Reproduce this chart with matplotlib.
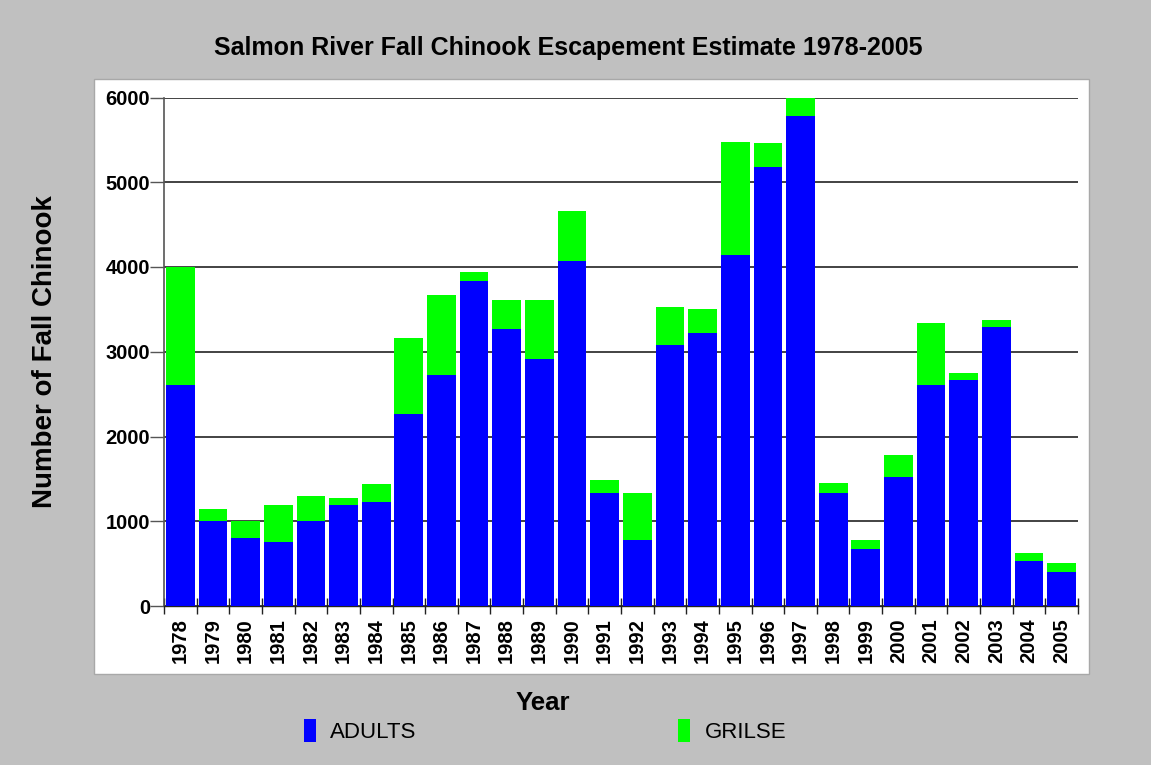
# Salmon River fall chinook escapement, stacked bars (adults + grilse)

import matplotlib
matplotlib.use("Agg")
import matplotlib.pyplot as plt
from matplotlib.patches import Rectangle, Patch
import numpy as np

plt.rcParams["font.family"] = ["Liberation Sans", "DejaVu Sans"]

# ------------------------------------------------------------
# Data
# ------------------------------------------------------------
years = [str(y) for y in range(1978, 2006)]
adults = [2610, 1000, 800, 755, 1000, 1195, 1230, 2260, 2720, 3840,
          3270, 2915, 4070, 1335, 780, 3085, 3225, 4145, 5185, 5785,
          1335, 675, 1520, 2605, 2670, 3295, 535, 400]
totals = [4005, 1150, 1000, 1195, 1300, 1275, 1445, 3165, 3670, 3945,
          3605, 3605, 4665, 1485, 1335, 3530, 3500, 5475, 5460, 6000,
          1455, 780, 1780, 3345, 2745, 3380, 630, 510]
grilse = [t - a for t, a in zip(totals, adults)]

BG = "#c0c0c0"
BLUE = "#0000ff"
GREEN = "#00ff00"

fig = plt.figure(figsize=(11.51, 7.65), dpi=100, facecolor=BG)

# white panel behind the plot
fig.patches.append(Rectangle((94 / 1151, 1 - 674 / 765), 995 / 1151, 595 / 765,
                             transform=fig.transFigure, facecolor="white",
                             edgecolor="#a8a8a8", linewidth=1.0, zorder=-1))

ax = fig.add_axes([164 / 1151, 1 - 606 / 765, 914 / 1151, 508.5 / 765])
ax.set_facecolor("white")

x = np.arange(len(years)) + 0.5
ax.bar(x, adults, width=0.88, color=BLUE, zorder=3)
ax.bar(x, grilse, width=0.88, bottom=adults, color=GREEN, zorder=3)

ax.set_xlim(0, len(years))
ax.set_ylim(0, 6000)

# y axis
ax.set_yticks(range(0, 6001, 1000))
ax.yaxis.grid(True, color="#222222", linewidth=1.2, zorder=1)
ax.tick_params(axis="y", length=10, width=1, color="#555555", pad=0,
               labelsize=14.5)
for lbl in ax.get_yticklabels():
    lbl.set_fontweight("bold")

# x axis: labels at bar centres, tick marks at bar boundaries
ax.set_xticks(x)
ax.set_xticklabels(years, rotation=90, fontsize=14.5, fontweight="bold")
ax.tick_params(axis="x", which="major", length=0, pad=9)
ax.set_xticks(np.arange(len(years) + 1), minor=True)
ax.tick_params(axis="x", which="minor", length=11, width=1, direction="inout",
               color="#222222")

for side in ["top", "right"]:
    ax.spines[side].set_visible(False)
ax.spines["left"].set_color("#555555")
ax.spines["left"].set_linewidth(1.2)
ax.spines["bottom"].set_color("#222222")
ax.spines["bottom"].set_linewidth(1.0)

# titles and labels
fig.text(568 / 1151, 1 - 48 / 765, "Salmon River Fall Chinook Escapement Estimate 1978-2005",
         ha="center", va="center", fontsize=18, fontweight="bold")
fig.text(45 / 1151, 1 - 352 / 765, "Number of Fall Chinook", rotation=90,
         ha="center", va="center", fontsize=20, fontweight="bold")
fig.text(543 / 1151, 1 - 703 / 765, "Year", ha="center", va="center",
         fontsize=18.5, fontweight="bold")

# legend
handles = [Patch(facecolor=BLUE), Patch(facecolor=GREEN)]
fig.legend(handles, ["ADULTS", "GRILSE"], loc="center",
           bbox_to_anchor=(545 / 1151, 1 - 731 / 765), ncol=2, frameon=False,
           fontsize=16, handlelength=0.55, handleheight=1.2, handletextpad=0.65,
           columnspacing=11.75)

fig.savefig("out.png", dpi=100, facecolor=BG)
